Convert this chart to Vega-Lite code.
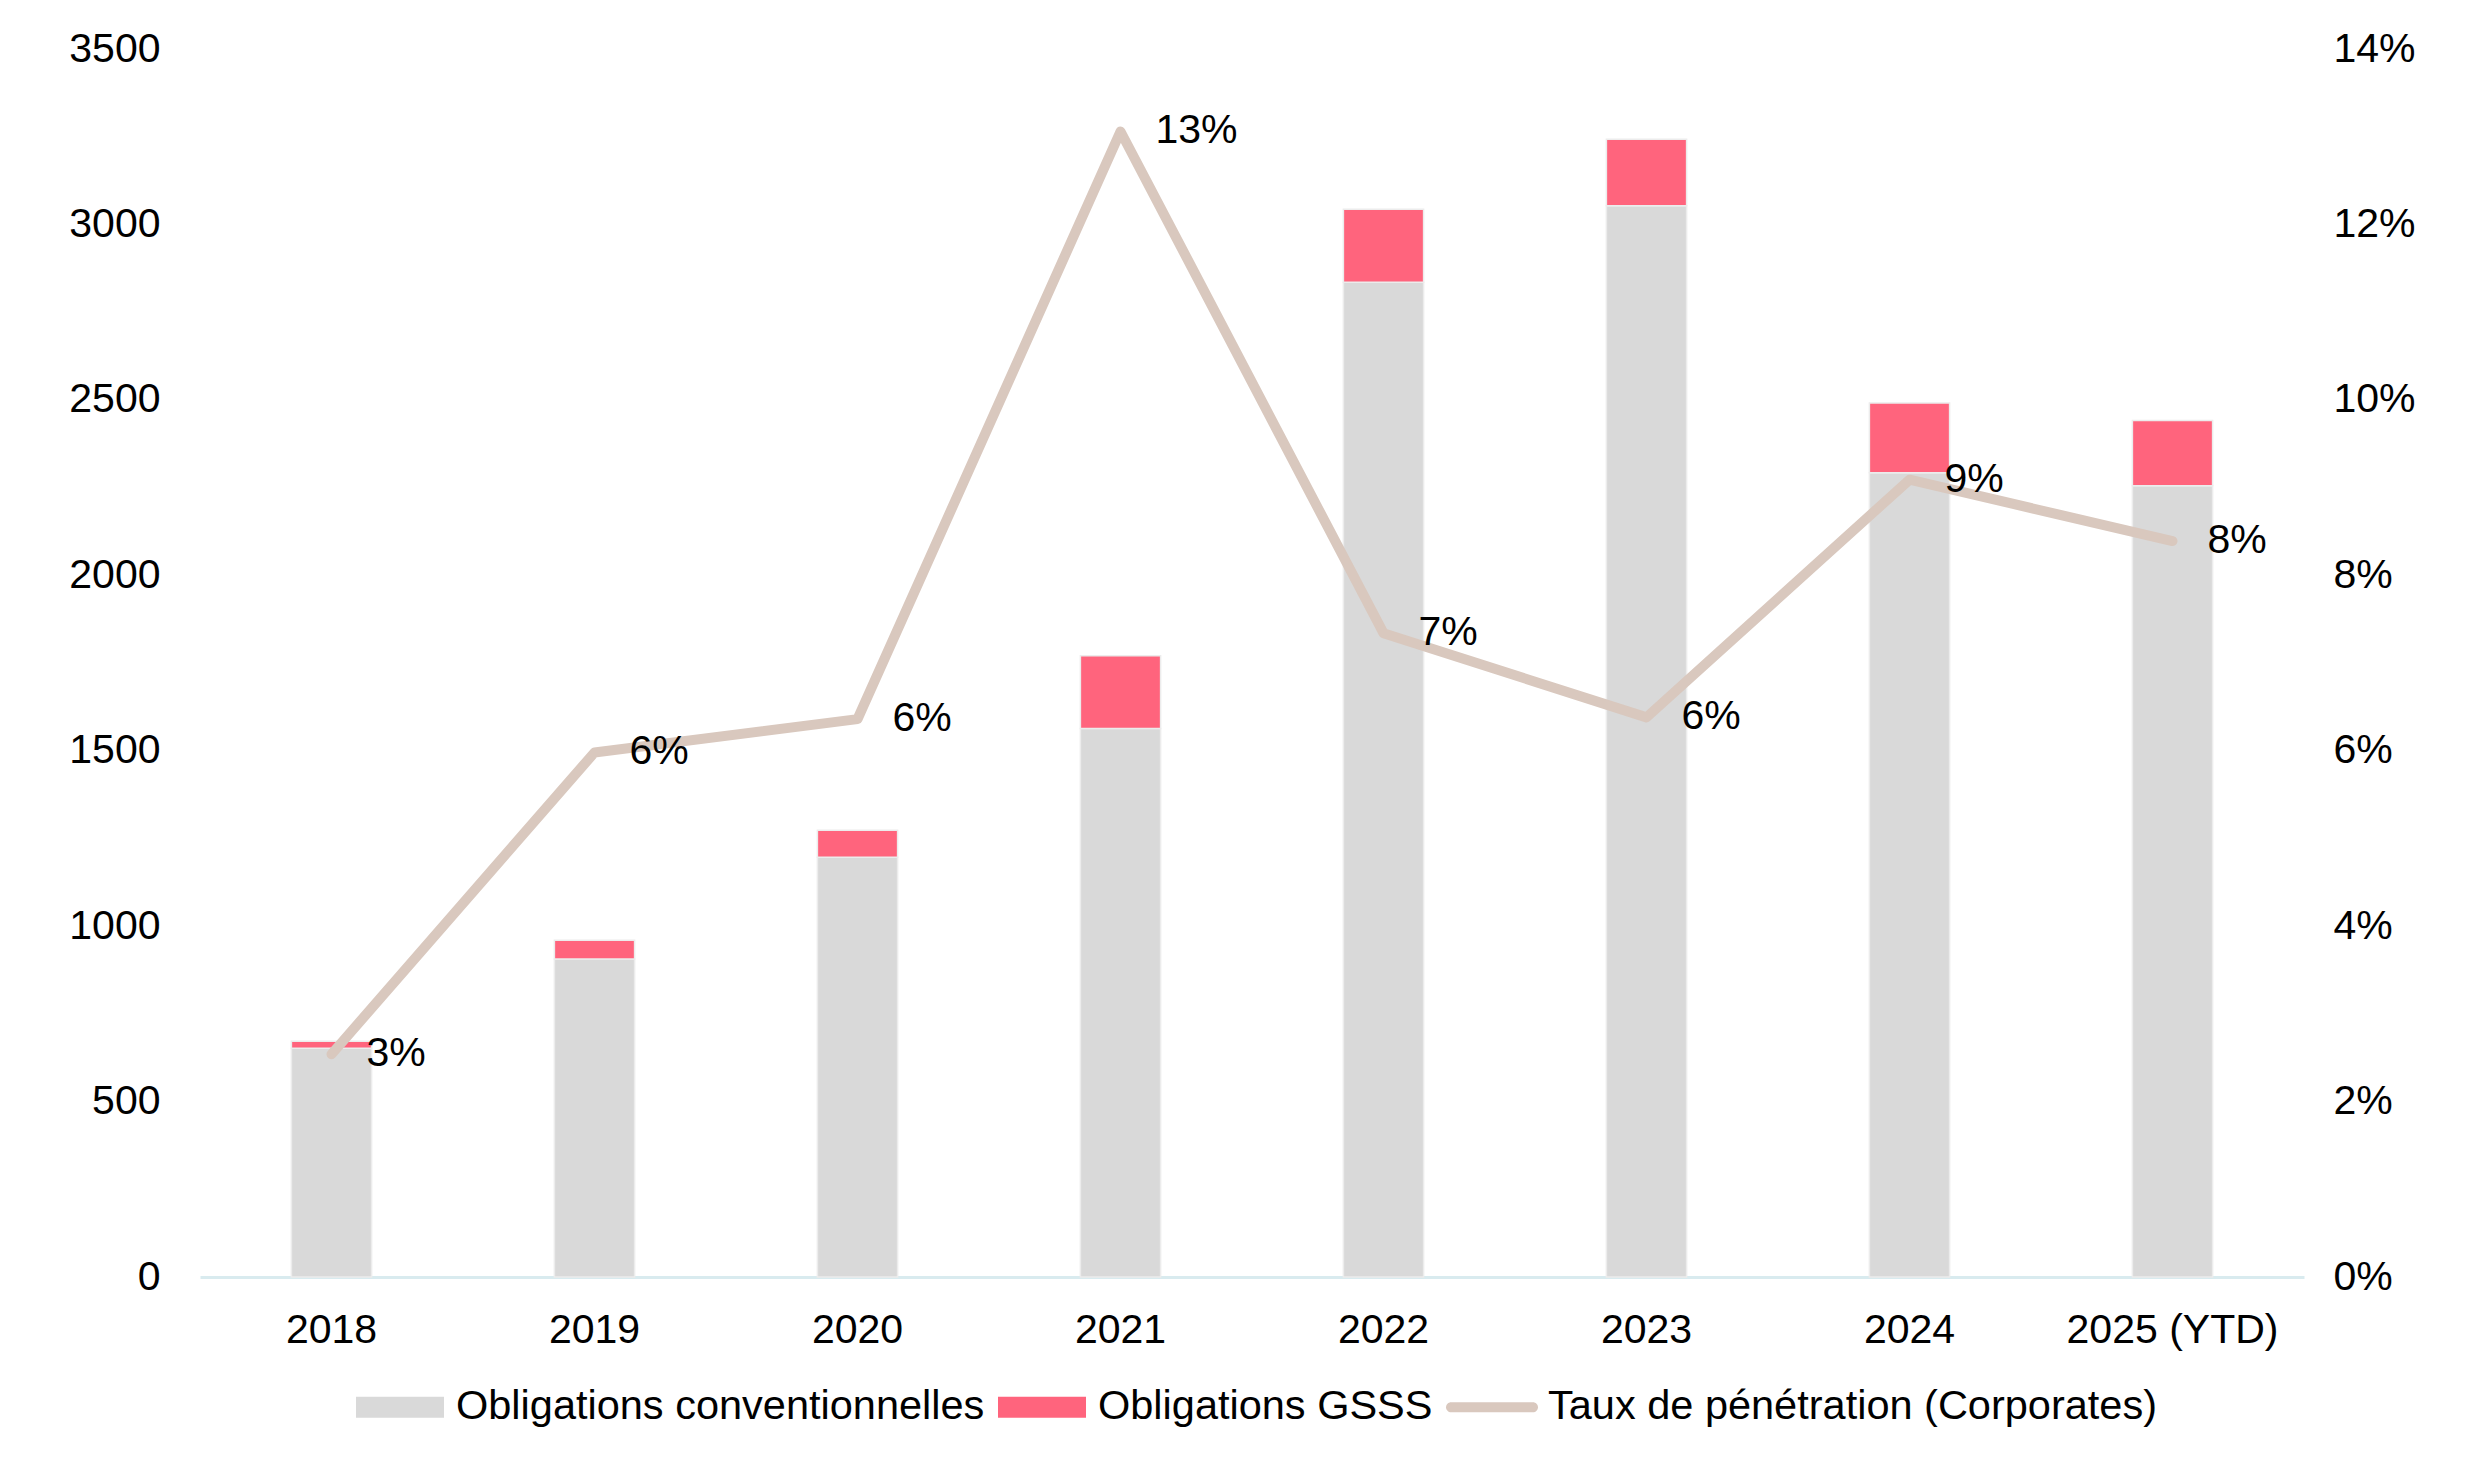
{
  "$schema": "https://vega.github.io/schema/vega-lite/v6.json",
  "width": 2104,
  "height": 1228,
  "autosize": {"type": "none"},
  "padding": {"left": 200, "top": 49, "right": 184, "bottom": 204},
  "background": "white",
  "config": {
    "font": "Liberation Sans",
    "view": {"stroke": null},
    "axis": {"labelFont": "Liberation Sans", "labelColor": "#000000", "labelFontSize": 41, "labelLimit": 0, "ticks": false, "grid": false, "title": null},
    "legend": {
      "orient": "none",
      "legendX": 156,
      "legendY": 1314,
      "direction": "horizontal",
      "title": null,
      "padding": 0,
      "labelFont": "Liberation Sans",
      "labelFontSize": 41.5,
      "labelColor": "#000000",
      "labelLimit": 0,
      "labelOffset": 12,
      "columnPadding": 13,
      "symbolSize": 7744,
      "symbolStrokeWidth": 0,
      "symbolType": "M-1,-0.24H1V0.24H-1Z"
    }
  },
  "datasets": {
    "bars": [
      {"annee": "2018", "serie": "Obligations conventionnelles", "montant": 652},
      {"annee": "2018", "serie": "Obligations GSSS", "montant": 20},
      {"annee": "2019", "serie": "Obligations conventionnelles", "montant": 906},
      {"annee": "2019", "serie": "Obligations GSSS", "montant": 54},
      {"annee": "2020", "serie": "Obligations conventionnelles", "montant": 1196},
      {"annee": "2020", "serie": "Obligations GSSS", "montant": 77},
      {"annee": "2021", "serie": "Obligations conventionnelles", "montant": 1563},
      {"annee": "2021", "serie": "Obligations GSSS", "montant": 208},
      {"annee": "2022", "serie": "Obligations conventionnelles", "montant": 2835},
      {"annee": "2022", "serie": "Obligations GSSS", "montant": 208},
      {"annee": "2023", "serie": "Obligations conventionnelles", "montant": 3053},
      {"annee": "2023", "serie": "Obligations GSSS", "montant": 190},
      {"annee": "2024", "serie": "Obligations conventionnelles", "montant": 2292},
      {"annee": "2024", "serie": "Obligations GSSS", "montant": 199},
      {"annee": "2025 (YTD)", "serie": "Obligations conventionnelles", "montant": 2255},
      {"annee": "2025 (YTD)", "serie": "Obligations GSSS", "montant": 186}
    ],
    "taux": [
      {"annee": "2018", "serie": "Taux de pénétration (Corporates)", "taux": 0.0254},
      {"annee": "2019", "serie": "Taux de pénétration (Corporates)", "taux": 0.0598},
      {"annee": "2020", "serie": "Taux de pénétration (Corporates)", "taux": 0.0636},
      {"annee": "2021", "serie": "Taux de pénétration (Corporates)", "taux": 0.1306},
      {"annee": "2022", "serie": "Taux de pénétration (Corporates)", "taux": 0.0734},
      {"annee": "2023", "serie": "Taux de pénétration (Corporates)", "taux": 0.0638},
      {"annee": "2024", "serie": "Taux de pénétration (Corporates)", "taux": 0.0909},
      {"annee": "2025 (YTD)", "serie": "Taux de pénétration (Corporates)", "taux": 0.0839}
    ]
  },
  "encoding": {
    "x": {
      "field": "annee",
      "type": "nominal",
      "sort": null,
      "scale": {"paddingInner": 0.695, "paddingOuter": 0.3475},
      "axis": {"labelAngle": 0, "labelPadding": 33, "domainColor": "#d9ebef", "domainWidth": 3, "title": null}
    },
    "color": {
      "field": "serie",
      "type": "nominal",
      "scale": {
        "domain": ["Obligations conventionnelles", "Obligations GSSS", "Taux de pénétration (Corporates)"],
        "range": ["#d9d9d9", "#ff647d", "#d9c8be"]
      },
      "legend": {
        "encode": {
          "symbols": {
            "update": {
              "shape": {"signal": "datum.value === 'Taux de pénétration (Corporates)' ? 'M-0.93,-0.115H0.93A0.115,0.115 0 0 1 0.93,0.115H-0.93A0.115,0.115 0 0 1 -0.93,-0.115Z' : 'M-1,-0.24H1V0.24H-1Z'"},
              "fill": {"signal": "scale('color', datum.value)"},
              "stroke": {"value": "transparent"},
              "strokeWidth": {"value": 0},
              "opacity": {"value": 1}
            }
          }
        }
      }
    }
  },
  "layer": [
    {
      "data": {"name": "bars"},
      "mark": {"type": "bar", "stroke": "#ececec", "strokeWidth": 1.5},
      "encoding": {
        "y": {
          "field": "montant",
          "type": "quantitative",
          "stack": "zero",
          "scale": {"domain": [0, 3500]},
          "axis": {"values": [0, 500, 1000, 1500, 2000, 2500, 3000, 3500], "format": "d", "domain": false, "labelPadding": 40, "orient": "left"}
        }
      }
    },
    {
      "data": {"name": "taux"},
      "mark": {"type": "line", "strokeWidth": 10, "strokeCap": "round", "strokeJoin": "round"},
      "encoding": {
        "y": {
          "field": "taux",
          "type": "quantitative",
          "scale": {"domain": [0, 0.14]},
          "axis": {"values": [0, 0.02, 0.04, 0.06, 0.08, 0.1, 0.12, 0.14], "format": ".0%", "domain": false, "labelPadding": 29, "orient": "right"}
        }
      }
    },
    {
      "data": {"name": "taux"},
      "mark": {"type": "text", "align": "left", "baseline": "middle", "dx": 35, "fontSize": 41, "font": "Liberation Sans"},
      "encoding": {
        "y": {"field": "taux", "type": "quantitative", "scale": {"domain": [0, 0.14]}, "axis": null},
        "text": {"field": "taux", "type": "quantitative", "format": ".0%"},
        "color": {"value": "#000000"}
      }
    }
  ],
  "resolve": {"scale": {"y": "independent"}, "axis": {"y": "independent"}}
}
